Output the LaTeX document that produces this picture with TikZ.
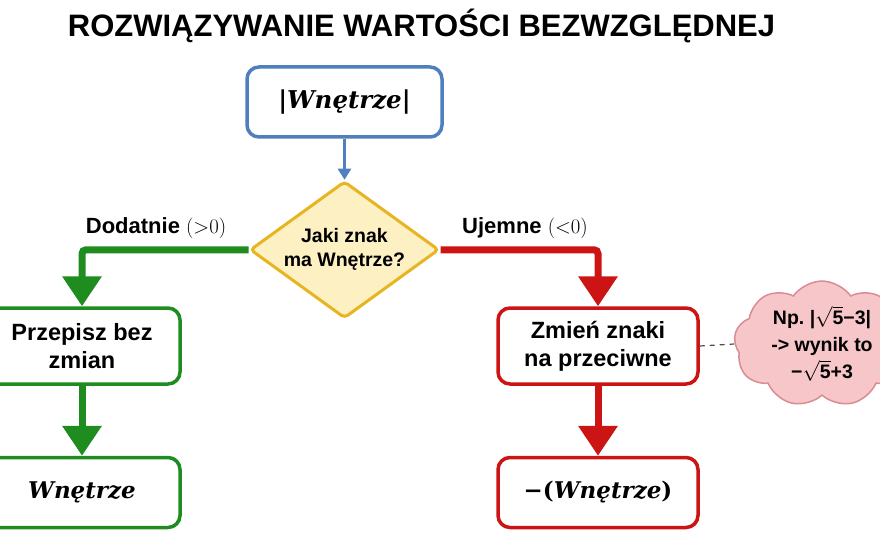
\documentclass[tikz,border=0pt]{standalone}
\usepackage{fontspec}
\setmainfont{Liberation Sans}
\newfontfamily\serifmath{DejaVu Serif}
\usepackage{tikz}
\usetikzlibrary{positioning,shapes.geometric,shapes.symbols,arrows.meta}
\definecolor{boxblue}{HTML}{4F7FBF}
\definecolor{yesgreen}{HTML}{1E8C1E}
\definecolor{nored}{HTML}{CC1414}
\definecolor{askgold}{HTML}{E6B521}
\definecolor{askfill}{HTML}{FDF0C2}
\definecolor{notefill}{HTML}{F7C6C9}
\definecolor{noteline}{HTML}{D98C92}

\begin{document}
\begin{tikzpicture}[x=1pt,y=-1pt]
\tikzstyle{main}=[rectangle, rounded corners=12pt, line width=3.5pt, fill=white, minimum width=196pt, minimum height=76pt, align=center, font=\fontsize{23.5}{28}\selectfont\bfseries, node distance=70pt]
\tikzstyle{result}=[main, minimum height=70pt, font=\fontsize{23}{28}\selectfont\serifmath\bfseries]
\tikzstyle{connect}=[-{Triangle[width=38pt,length=30pt]}, line width=7pt, rounded corners=4pt]
\tikzstyle{branch}=[font=\fontsize{22}{26}\selectfont\bfseries]
\useasboundingbox (0,0) rectangle (880,540);
  % title
  \node[font=\fontsize{31}{36}\selectfont\bfseries, anchor=base] (title) at (421.5,37) {ROZWIĄZYWANIE WARTOŚCI BEZWZGLĘDNEJ};
  % |Wnetrze|
  \node[main, draw=boxblue, minimum width=195pt, minimum height=70pt, font=\fontsize{24.5}{28}\selectfont\serifmath\bfseries] (start) at (344.5,102) {|\textit{Wnętrze}|};
  % question
  \node[diamond, aspect=1.4, draw=askgold, fill=askfill, line width=3pt, rounded corners=4pt, inner sep=0pt, minimum width=189pt, minimum height=137pt, align=center, font=\fontsize{19.5}{24}\selectfont\bfseries] (ask) [below=41pt of start] {Jaki znak\\ma Wnętrze?};
  % positive
  \node[main, draw=yesgreen] (keep) at (82,346) {Przepisz bez\\zmian};
  \node[result, draw=yesgreen] (keepres) [below=of keep] {\textit{Wnętrze}};
  % negative
  \node[main, draw=nored, minimum width=200pt] (flip) at (598,346) {Zmień znaki\\na przeciwne};
  \node[result, draw=nored, minimum width=200pt] (flipres) [below=of flip] {−(\textit{Wnętrze})};
  % example
  \node[cloud, cloud puffs=9, cloud puff arc=110, cloud ignores aspect, inner sep=0pt, draw=noteline, fill=notefill, line width=1.5pt, minimum width=176pt, minimum height=116pt, align=center, font=\fontsize{19.5}{27}\selectfont\bfseries] (note) at (822,344) {Np.\ |$\sqrt{\textbf{5}}$−3|\\-> wynik to\\−$\sqrt{\textbf{5}}$+3};
  % branch labels
  \node[branch] (yes) at (156,228) {Dodatnie $(\mathord{>}0)$};
  \node[branch] (no) at (525,228) {Ujemne $(\mathord{<}0)$};
  \draw[-{Triangle[width=13pt,length=11pt]}, line width=2.5pt, draw=boxblue] (start) -- (ask);
  \draw[connect, draw=yesgreen] (ask.west) -| (keep.north);
  \draw[connect, draw=nored] (ask.east) -| (flip.north);
  \path (keep) edge [connect, draw=yesgreen] (keepres)
        (flip) edge [connect, draw=nored] (flipres);
  \draw[dash pattern=on 5pt off 5pt, gray!60!black, line width=1.2pt] (flip.east) -- (note.west);
\end{tikzpicture}
\end{document}
